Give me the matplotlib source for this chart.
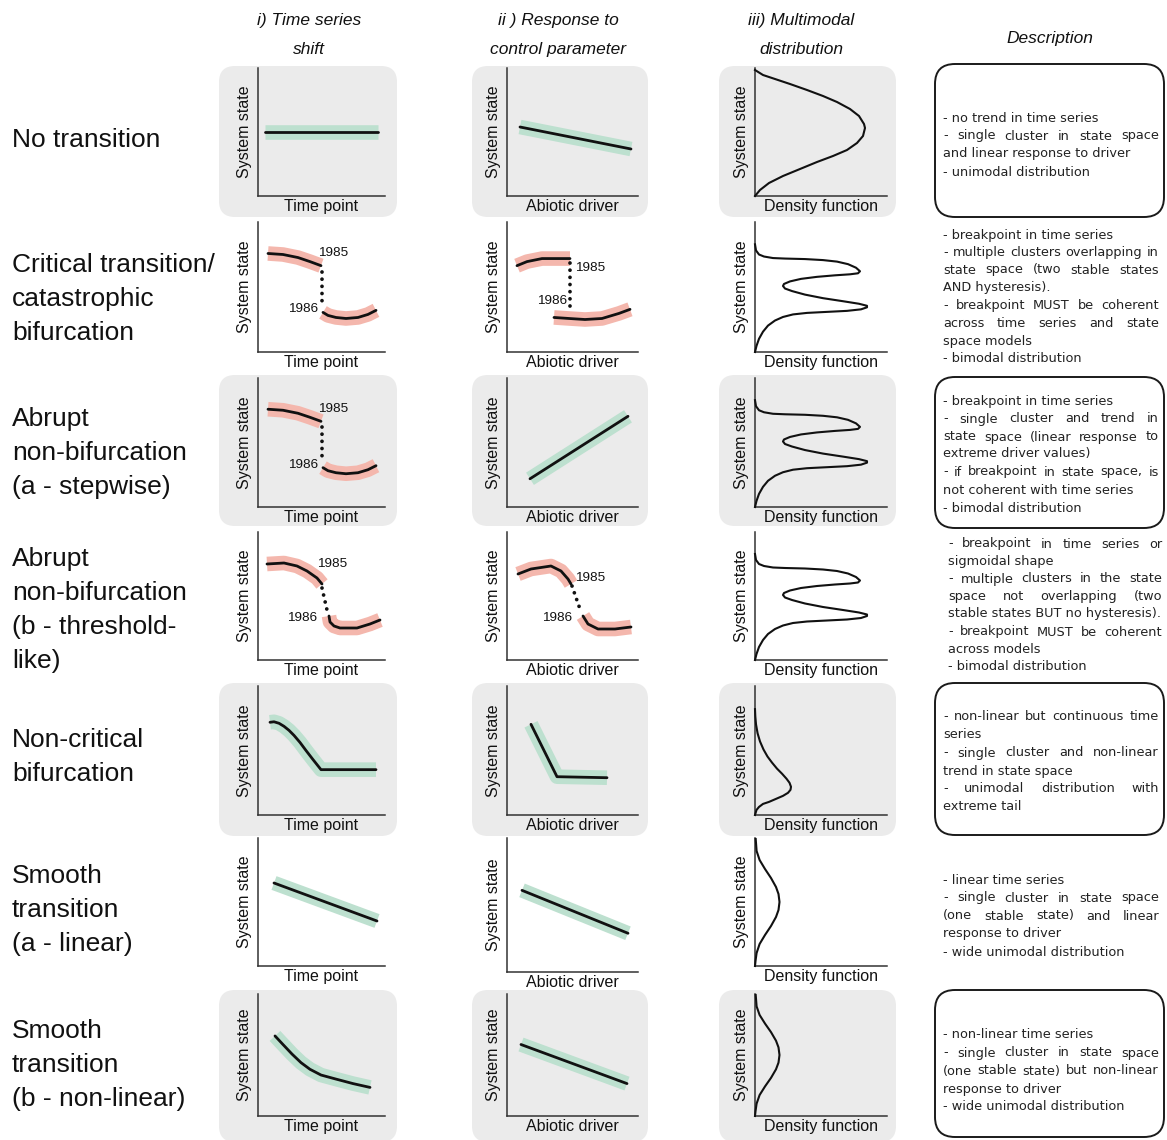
import matplotlib
matplotlib.use("Agg")
import matplotlib.pyplot as plt
from matplotlib.patches import FancyBboxPatch

# ---------------- text content ----------------
row_labels = ["No transition",
              "Critical transition/\ncatastrophic\nbifurcation",
              "Abrupt\nnon-bifurcation\n(a - stepwise)",
              "Abrupt\nnon-bifurcation\n(b - threshold-\nlike)",
              "Non-critical\nbifurcation",
              "Smooth\ntransition\n(a - linear)",
              "Smooth\ntransition\n(b - non-linear)"]
col_titles = ["i) Time series\nshift", "ii ) Response to\ncontrol parameter",
              "iii) Multimodal\ndistribution", "Description"]
x_labels = ["Time point", "Abiotic driver", "Density function"]
y_label = "System state"
year_labels = ["1985", "1986"]

desc_1 = ["- no trend in time series", "- single cluster in state space",
          "and linear response to driver", "- unimodal distribution"]
just_1 = [0, 1, 0, 0]
desc_2 = ["- breakpoint in time series", "- multiple clusters overlapping in",
          "state space (two stable states", "AND hysteresis).",
          "- breakpoint MUST be coherent", "across time series and state",
          "space models", "- bimodal distribution"]
just_2 = [0, 1, 1, 0, 1, 1, 0, 0]
desc_3 = ["- breakpoint in time series", "- single cluster and trend in",
          "state space (linear response to", "extreme driver values)",
          "- if breakpoint in state space, is", "not coherent with time series",
          "- bimodal distribution"]
just_3 = [0, 1, 1, 0, 1, 0, 0]
desc_4 = ["- breakpoint in time series or", "sigmoidal shape",
          "- multiple clusters in the state", "space not overlapping (two",
          "stable states BUT no hysteresis).", "- breakpoint MUST be coherent",
          "across models", "- bimodal distribution"]
just_4 = [1, 0, 1, 1, 0, 1, 0, 0]
desc_5 = ["- non-linear but continuous time", "series",
          "- single cluster and non-linear", "trend in state space",
          "- unimodal distribution with", "extreme tail"]
just_5 = [1, 0, 1, 0, 1, 0]
desc_6 = ["- linear time series", "- single cluster in state space",
          "(one stable state) and linear", "response to driver",
          "- wide unimodal distribution"]
just_6 = [0, 1, 1, 0, 0]
desc_7 = ["- non-linear time series", "- single cluster in state space",
          "(one stable state) but non-linear", "response to driver",
          "- wide unimodal distribution"]
just_7 = [0, 1, 1, 0, 0]

# ---------------- curve data (local units) ----------------
# row 1 : no transition
ts_none_x = [7, 120]
ts_none_y = [64, 64]
ctrl_none_x = [13, 124]
ctrl_none_y = [69, 47]
dens_uni_x = [0, 8, 20, 35, 52, 68, 82, 95, 104, 109, 110, 108, 102, 92, 78, 62, 45, 28, 14, 5, 0]
dens_uni_y = [126, 121, 117, 112, 106, 100, 94, 87, 80, 72, 68, 60, 53, 46, 40, 34, 27, 20, 13, 6, 0]

# row 2 : critical transition
ts_crit_up_x = [10, 25, 40, 52, 63]
ts_crit_up_y = [97, 96, 93, 89, 85]
ts_crit_jump_x = [64, 64]
ts_crit_jump_y = [79, 45]
ts_crit_lo_x = [65, 70, 78, 88, 100, 110, 118]
ts_crit_lo_y = [39, 36, 34, 33, 34, 37, 41]
ctrl_crit_up_x = [10, 20, 35, 48, 63]
ctrl_crit_up_y = [85, 89, 92, 92, 92]
ctrl_crit_jump_x = [63, 63]
ctrl_crit_jump_y = [88, 40]
ctrl_crit_lo_x = [47, 62, 78, 95, 112, 123]
ctrl_crit_lo_y = [34, 33, 32, 33, 38, 42]
dens_bi_x = [0, 1, 4, 9, 18, 30, 50, 68, 82, 93, 101, 105, 103, 95, 80, 62, 46, 35, 29, 28,
             30, 37, 50, 68, 88, 104, 112, 112, 106, 92, 72, 52, 38, 28, 20, 13, 8, 4, 1.5, 0]
dens_bi_y = [106, 100, 96, 94, 92.5, 92, 91.5, 90.5, 89, 86.5, 83, 79.5, 77.5, 76.5, 75.5, 74,
             72, 69.5, 67, 65, 62.5, 60, 56.5, 53, 50, 47.5, 45.5, 44, 42, 40.5, 39.5, 38.5,
             37, 34.5, 31, 26, 20, 13, 6, 0]

# row 3 : abrupt stepwise
ts_step_up_x = [10, 25, 40, 52, 63]
ts_step_up_y = [97, 96, 93, 89, 85]
ts_step_jump_x = [64, 64]
ts_step_jump_y = [79, 45]
ts_step_lo_x = [65, 70, 78, 88, 100, 110, 118]
ts_step_lo_y = [39, 36, 34, 33, 34, 37, 41]
ctrl_step_x = [23, 121]
ctrl_step_y = [28, 90]

# row 4 : abrupt threshold-like
ts_thr_up_x = [9, 26, 39, 49, 59, 64]
ts_thr_up_y = [96, 97, 94, 89, 82, 76]
ts_thr_jump_x = [64, 69]
ts_thr_jump_y = [72, 50]
ts_thr_lo_x = [71, 72, 76, 82, 99, 112, 122]
ts_thr_lo_y = [44, 38, 34, 32, 32, 36, 40]
ctrl_thr_up_x = [11, 24, 44, 54, 61, 64]
ctrl_thr_up_y = [86, 91, 94, 89, 81, 76]
ctrl_thr_jump_x = [65, 74]
ctrl_thr_jump_y = [74, 48]
ctrl_thr_lo_x = [76, 81, 91, 108, 124]
ctrl_thr_lo_y = [44, 36, 31, 31, 33]

# row 5 : non-critical bifurcation
ts_ncb_x = [12, 16, 21, 26, 31, 36, 42, 48, 55, 63, 118]
ts_ncb_y = [92, 92.5, 91, 88, 84, 79, 72, 64, 55, 45, 45]
ctrl_ncb_x = [24, 50, 100]
ctrl_ncb_y = [90, 38, 37]
dens_tail_x = [0, 0.3, 1, 2.6, 5, 8.5, 12.5, 17, 22, 27, 31.5, 34.5, 36, 35.5, 33, 28, 21, 14, 8, 4, 1.5, 0]
dens_tail_y = [105, 98, 90, 81, 73, 65, 58, 52, 46, 41, 36, 32, 28, 25, 22, 19, 16, 13, 11, 8, 5, 0]

# row 6 : smooth linear
ts_lin_x = [16, 119]
ts_lin_y = [83, 45]
ctrl_lin_x = [15, 121]
ctrl_lin_y = [78, 37]
dens_wide_x = [0.7, 1.6, 4.6, 10, 16, 21, 23.5, 24.5, 23.5, 21, 16, 10, 4.6, 1.6, 0.5, 0]
dens_wide_y = [127, 115, 106, 97, 88, 79, 72, 64, 56, 49, 40, 31, 22, 13, 5, 0]

# row 7 : smooth non-linear
ts_nl_x = [17, 25, 34, 43, 52, 63, 77, 95, 112]
ts_nl_y = [84, 75, 65, 56, 49, 43, 39, 34, 30]
ctrl_nl_x = [14, 120]
ctrl_nl_y = [75, 34]

# ---------------- layout ----------------
W, H = 1167, 1140
fig = plt.figure(figsize=(W / 100, H / 100), dpi=100)
fig.patch.set_facecolor("white")

GRAY = "#ebebeb"
GREEN = "#bde0cf"
PINK = "#f4b7ad"
INK = "#111111"
SANS = ["Liberation Sans", "DejaVu Sans"]

bg = fig.add_axes([0, 0, 1, 1])
bg.set_xlim(0, W)
bg.set_ylim(H, 0)
bg.axis("off")

col_x = [(258, 385), (507, 638), (755, 887)]
row_y = [(68, 196), (222, 352), (378, 507), (532, 660), (686, 815), (838, 966), (994, 1116)]
panel_cols = [(219, 397), (472, 648), (719, 896)]
panel_rows = {0: (66, 217), 2: (375, 526), 4: (683, 836), 6: (990, 1142)}
desc_boxes = {0: (64, 217), 2: (377, 528), 4: (683, 835), 6: (990, 1137)}

for r, (t, b) in panel_rows.items():
    for (l, rr) in panel_cols:
        bg.add_patch(FancyBboxPatch((l, t), rr - l, b - t,
                                    boxstyle="round,pad=0,rounding_size=16",
                                    fc=GRAY, ec="none"))
for r, (t, b) in desc_boxes.items():
    bg.add_patch(FancyBboxPatch((935, t), 1164 - 935, b - t,
                                boxstyle="round,pad=0,rounding_size=20",
                                fc="none", ec="#1a1a1a", lw=1.4))

# headers
head_x = [309, 558, 801]
for x, t in zip(head_x, col_titles[:3]):
    bg.text(x, 35, t, ha="center", va="center", fontsize=12.5, style="italic",
            family=SANS, color=INK, linespacing=2.2)
bg.text(1050, 39, col_titles[3], ha="center", va="center", fontsize=12.5,
        style="italic", family=SANS, color=INK)

# row labels
label_y = [140, 299, 453, 610, 757, 910, 1065]
for y, t in zip(label_y, row_labels):
    bg.text(12, y, t, ha="left", va="center", fontsize=19, family=SANS,
            color=INK, linespacing=1.52)


def make_ax(r, c, bottom=None):
    l, rr = col_x[c]
    t, b = row_y[r]
    if bottom is not None:
        b = bottom
    ax = fig.add_axes([l / W, 1 - b / H, (rr - l) / W, (b - t) / H])
    ax.set_xlim(0, rr - l)
    ax.set_ylim(0, 128)
    ax.patch.set_alpha(0)
    for s in ("top", "right"):
        ax.spines[s].set_visible(False)
    for s in ("left", "bottom"):
        ax.spines[s].set_linewidth(1.1)
        ax.spines[s].set_color("#333333")
    ax.set_xticks([])
    ax.set_yticks([])
    ax.set_xlabel(x_labels[c], fontsize=11.5, family=SANS, labelpad=2, color=INK)
    ax.set_ylabel(y_label, fontsize=11.5, family=SANS, labelpad=4, color=INK)
    return ax


def band(ax, x, y, color):
    ax.plot(x, y, color=color, lw=10.5, solid_capstyle="butt",
            solid_joinstyle="round", clip_on=False, zorder=2)
    ax.plot(x, y, color=INK, lw=2.0, solid_capstyle="round",
            solid_joinstyle="round", clip_on=False, zorder=3)


def density(ax, x, y):
    ax.plot(x, y, color=INK, lw=1.5, solid_joinstyle="round", clip_on=False, zorder=3)


def jump(ax, x, y):
    ax.plot(x, y, color=INK, lw=2.7, linestyle=(0, (0.01, 1.9)),
            dash_capstyle="round", clip_on=False, zorder=3)


def years(ax, p85, p86, ha85="left"):
    ax.text(p85[0], p85[1], year_labels[0], ha=ha85, va="center", fontsize=9.7,
            family=SANS, color=INK)
    ax.text(p86[0], p86[1], year_labels[1], ha="right", va="center", fontsize=9.7,
            family=SANS, color=INK)


# row 1
ax = make_ax(0, 0); band(ax, ts_none_x, ts_none_y, GREEN)
ax = make_ax(0, 1); band(ax, ctrl_none_x, ctrl_none_y, GREEN)
ax = make_ax(0, 2); density(ax, dens_uni_x, dens_uni_y)

# row 2
ax = make_ax(1, 0)
band(ax, ts_crit_up_x, ts_crit_up_y, PINK)
band(ax, ts_crit_lo_x, ts_crit_lo_y, PINK)
jump(ax, ts_crit_jump_x, ts_crit_jump_y)
years(ax, (60, 97), (60, 42))
ax = make_ax(1, 1)
band(ax, ctrl_crit_up_x, ctrl_crit_up_y, PINK)
band(ax, ctrl_crit_lo_x, ctrl_crit_lo_y, PINK)
jump(ax, ctrl_crit_jump_x, ctrl_crit_jump_y)
years(ax, (68, 83), (60, 50))
ax = make_ax(1, 2); density(ax, dens_bi_x, dens_bi_y)

# row 3
ax = make_ax(2, 0)
band(ax, ts_step_up_x, ts_step_up_y, PINK)
band(ax, ts_step_lo_x, ts_step_lo_y, PINK)
jump(ax, ts_step_jump_x, ts_step_jump_y)
years(ax, (60, 97), (60, 42))
ax = make_ax(2, 1); band(ax, ctrl_step_x, ctrl_step_y, GREEN)
ax = make_ax(2, 2); density(ax, dens_bi_x, dens_bi_y)

# row 4
ax = make_ax(3, 0)
band(ax, ts_thr_up_x, ts_thr_up_y, PINK)
band(ax, ts_thr_lo_x, ts_thr_lo_y, PINK)
jump(ax, ts_thr_jump_x, ts_thr_jump_y)
years(ax, (59, 96), (59, 42))
ax = make_ax(3, 1)
band(ax, ctrl_thr_up_x, ctrl_thr_up_y, PINK)
band(ax, ctrl_thr_lo_x, ctrl_thr_lo_y, PINK)
jump(ax, ctrl_thr_jump_x, ctrl_thr_jump_y)
years(ax, (68, 82), (65, 42))
ax = make_ax(3, 2); density(ax, dens_bi_x, dens_bi_y)

# row 5
ax = make_ax(4, 0); band(ax, ts_ncb_x, ts_ncb_y, GREEN)
ax = make_ax(4, 1); band(ax, ctrl_ncb_x, ctrl_ncb_y, GREEN)
ax = make_ax(4, 2); density(ax, dens_tail_x, dens_tail_y)

# row 6
ax = make_ax(5, 0); band(ax, ts_lin_x, ts_lin_y, GREEN)
ax = make_ax(5, 1, bottom=972); band(ax, ctrl_lin_x, ctrl_lin_y, GREEN)
ax = make_ax(5, 2); density(ax, dens_wide_x, dens_wide_y)

# row 7
ax = make_ax(6, 0); band(ax, ts_nl_x, ts_nl_y, GREEN)
ax = make_ax(6, 1); band(ax, ctrl_nl_x, ctrl_nl_y, GREEN)
ax = make_ax(6, 2); density(ax, dens_wide_x, dens_wide_y)

# ---------------- descriptions (justified) ----------------
DESC = dict(fontsize=9.3, family=["DejaVu Sans"], color="#222222", va="center", ha="left")
renderer = fig.canvas.get_renderer()


def put_desc(lines, flags, ys, x0, x1):
    for txt, just, y in zip(lines, flags, ys):
        if not just:
            bg.text(x0, y, txt, **DESC)
            continue
        words = txt.split(" ")
        objs = [bg.text(x0, y, w, **DESC) for w in words]
        ws = [o.get_window_extent(renderer=renderer).width for o in objs]
        gap = ((x1 - x0) - sum(ws)) / (len(words) - 1)
        x = x0
        for o, w in zip(objs, ws):
            o.set_x(x)
            x += w + gap


put_desc(desc_1, just_1, [118, 136, 154, 172], 943, 1159)
put_desc(desc_2, just_2, [235, 252.5, 270, 287.5, 305.5, 323.5, 341, 359], 943, 1159)
put_desc(desc_3, just_3, [401, 419, 437, 454, 472, 490, 508], 943, 1159)
put_desc(desc_4, just_4, [544, 561.5, 579, 596.5, 614, 632, 649.5, 667], 948, 1162)
put_desc(desc_5, just_5, [717, 735, 753, 771, 789, 807], 943, 1159)
put_desc(desc_6, just_6, [880, 898, 916, 934, 952], 943, 1159)
put_desc(desc_7, just_7, [1035, 1053, 1071, 1089, 1107], 943, 1159)

fig.savefig("out.png", dpi=100, facecolor="white")
